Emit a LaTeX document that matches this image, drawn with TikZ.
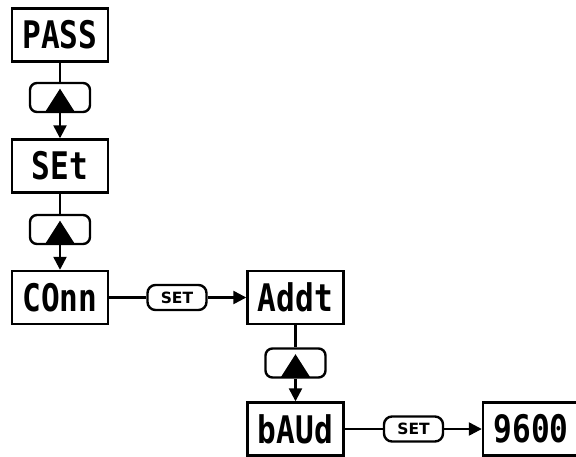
\documentclass[tikz,border=0pt]{standalone}
\usepackage{fontspec}
\setmainfont{DejaVu Sans}
\newfontfamily\segfont[FakeStretch=0.82]{DejaVu Sans Mono}
\usetikzlibrary{arrows.meta,calc}
\begin{document}
\begin{tikzpicture}[x=1pt,y=-1pt,
  display/.style={draw,line width=2.4pt,minimum width=96pt,minimum height=53pt,
    inner sep=0pt,font=\segfont\bfseries\fontsize{38}{38}\selectfont},
  keybtn/.style={draw,line width=2.4pt,rounded corners=7pt,minimum width=60pt,
    minimum height=29pt,inner sep=0pt},
  setbtn/.style={draw,line width=2.4pt,rounded corners=8pt,minimum width=59pt,
    minimum height=25pt,inner sep=0pt,font=\bfseries\fontsize{15.5}{15.5}\selectfont},
  link/.style={line width=2.4pt},
  flow/.style={line width=2.4pt,-{Triangle[length=13pt,width=13pt]}}]
\useasboundingbox (0,0) rectangle (576,456);
\fill[white] (0,0) rectangle (576,456);

% menu displays
\node[display] (pass) at (60,35) {PASS};
\node[display] (set)  at (60,166) {SEt};
\node[display] (conn) at (60,297.5) {COnn};
\node[display] (addt) at (295.5,297.5) {Addt};
\node[display] (baud) at (295.5,429) {bAUd};
\node[display] (rate) at (531,429) {9600};

% keys
\node[keybtn] (up1) at (60,97.5) {};
\node[keybtn] (up2) at (60,229.5) {};
\node[keybtn] (up3) at (295.5,363) {};
\node[setbtn] (sk1) at (177,297.5) {SET};
\node[setbtn] (sk2) at (413.5,429) {SET};

% up-arrow glyphs inside the keys
\foreach \k in {up1,up2,up3}{
  \fill ($(\k.south)+(-15,-1)$) -- ($(\k.south)+(0,-24.5)$) -- ($(\k.south)+(15,-1)$) -- cycle;
}

% connectors
\draw[link] (pass.south) -- (up1.north);
\draw[flow] (up1.south) -- (set.north);
\draw[link] (set.south) -- (up2.north);
\draw[flow] (up2.south) -- (conn.north);
\draw[link] (conn.east) -- (sk1.west);
\draw[flow] (sk1.east) -- (addt.west);
\draw[link] (addt.south) -- (up3.north);
\draw[flow] (up3.south) -- (baud.north);
\draw[link] (baud.east) -- (sk2.west);
\draw[flow] (sk2.east) -- (rate.west);
\end{tikzpicture}
\end{document}
